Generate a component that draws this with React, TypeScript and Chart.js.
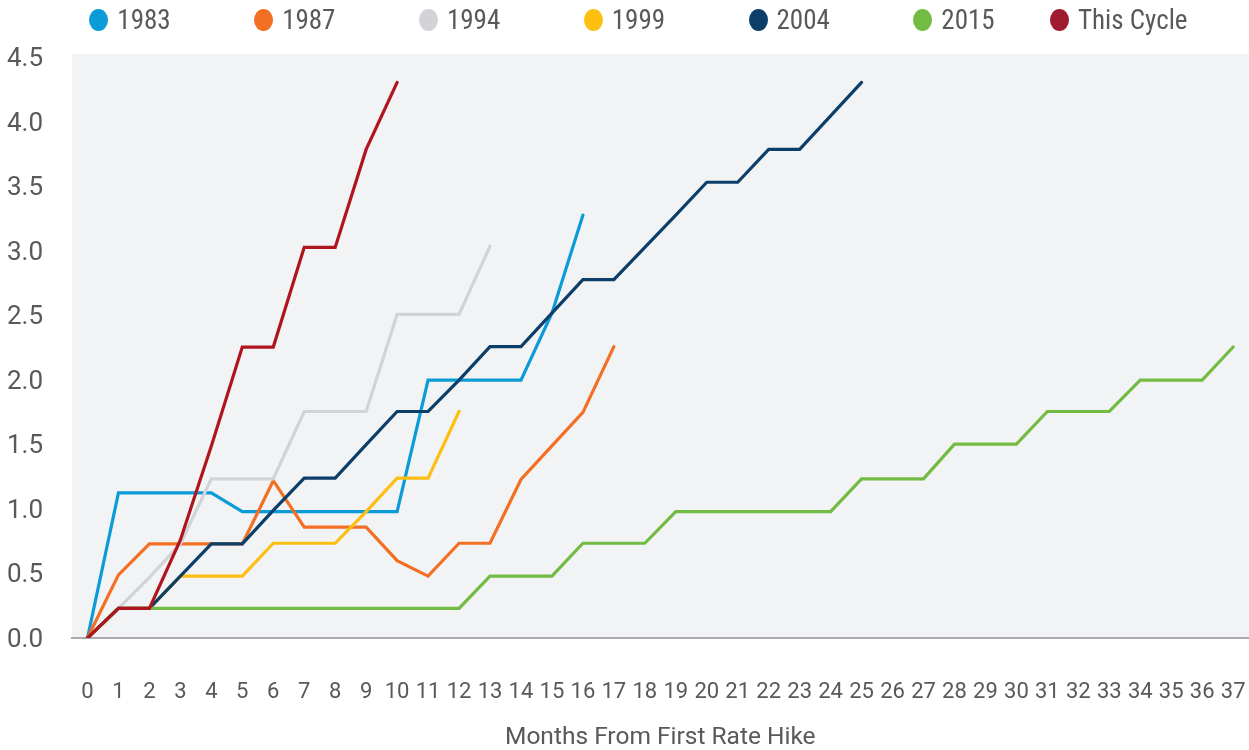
import React, { useEffect, useRef } from 'react';
import { Chart, registerables } from 'chart.js';

Chart.register(...registerables);

const monthLabels = [
  '0', '1', '2', '3', '4', '5', '6', '7', '8', '9',
  '10', '11', '12', '13', '14', '15', '16', '17', '18', '19',
  '20', '21', '22', '23', '24', '25', '26', '27', '28', '29',
  '30', '31', '32', '33', '34', '35', '36', '37',
];

const yTickValues = [0, 0.5, 1, 1.5, 2, 2.5, 3, 3.5, 4, 4.5];

const seriesNames = ['1983', '1987', '1994', '1999', '2004', '2015', 'This Cycle'];
const seriesColors = ['#0a9bd8', '#f36f24', '#d1d3d6', '#fdbf12', '#0c3e6a', '#72bc44', '#b0141e'];
const legendColors = ['#0a9bd8', '#f36f24', '#d1d3d6', '#fdbf12', '#0c3e6a', '#72bc44', '#9e1b30'];

const cycle1983 = [0, 1.125, 1.125, 1.125, 1.125, 0.98, 0.98, 0.98, 0.98, 0.98, 0.98, 2.0, 2.0, 2.0, 2.0, 2.52, 3.28];
const cycle1987 = [0, 0.49, 0.73, 0.73, 0.73, 0.73, 1.22, 0.86, 0.86, 0.86, 0.6, 0.48, 0.735, 0.735, 1.23, 1.49, 1.75, 2.26];
const cycle1994 = [0, 0.23, 0.47, 0.73, 1.235, 1.235, 1.235, 1.757, 1.757, 1.757, 2.51, 2.51, 2.51, 3.04];
const cycle1999 = [0, 0.23, 0.23, 0.48, 0.48, 0.48, 0.735, 0.735, 0.735, 0.98, 1.24, 1.24, 1.757];
const cycle2004 = [0, 0.23, 0.23, 0.48, 0.73, 0.73, 0.99, 1.24, 1.24, 1.5, 1.757, 1.757, 2.0, 2.26, 2.26, 2.52, 2.78, 2.78, 3.03, 3.28, 3.535, 3.535, 3.79, 3.79, 4.05, 4.31];
const cycle2015 = [
  0, 0.23, 0.23, 0.23, 0.23, 0.23, 0.23, 0.23, 0.23, 0.23,
  0.23, 0.23, 0.23, 0.48, 0.48, 0.48, 0.735, 0.735, 0.735, 0.98,
  0.98, 0.98, 0.98, 0.98, 0.98, 1.234, 1.234, 1.234, 1.504, 1.504,
  1.504, 1.757, 1.757, 1.757, 2.0, 2.0, 2.0, 2.257,
];
const cycleThis = [0, 0.23, 0.23, 0.76, 1.49, 2.257, 2.257, 3.03, 3.03, 3.79, 4.31];

const seriesData = [cycle1983, cycle1987, cycle1994, cycle1999, cycle2004, cycle2015, cycleThis];

const xTitle = 'Months From First Rate Hike';

const TEXT_COLOR = '#58595b';

const plotBackground = {
  id: 'plotBackground',
  beforeDraw(chart: any) {
    const { ctx, chartArea } = chart;
    if (!chartArea) return;
    ctx.save();
    ctx.fillStyle = '#f2f3f5';
    ctx.fillRect(chartArea.left, chartArea.top, chartArea.right - chartArea.left, chartArea.bottom - chartArea.top);
    ctx.restore();
  },
};

export default function App() {
  const canvasRef = useRef<HTMLCanvasElement | null>(null);

  useEffect(() => {
    const canvas = canvasRef.current;
    if (!canvas) return;
    const chart = new Chart(canvas, {
      type: 'line',
      data: {
        labels: monthLabels,
        datasets: seriesNames.map((name, i) => ({
          label: name,
          data: seriesData[i],
          borderColor: seriesColors[i],
          backgroundColor: seriesColors[i],
          borderWidth: 3.2,
          borderCapStyle: 'round' as const,
          borderJoinStyle: 'miter' as const,
          pointRadius: 0,
          pointHoverRadius: 0,
          tension: 0,
          fill: false,
          order: seriesNames.length - i,
        })),
      },
      options: {
        responsive: false,
        animation: false,
        devicePixelRatio: 1,
        events: [],
        layout: { padding: { top: 54, left: 0, right: 0, bottom: 0 } },
        plugins: {
          legend: { display: false },
          tooltip: { enabled: false },
          title: { display: false },
        },
        scales: {
          x: {
            type: 'category',
            offset: true,
            grid: { display: false, drawTicks: true, tickLength: 38 },
            border: { display: true, color: '#a9abae', width: 2 },
            ticks: {
              color: TEXT_COLOR,
              font: { family: 'Roboto', size: 22 },
              padding: 3.5,
              maxRotation: 0,
              autoSkip: false,
            },
            title: {
              display: true,
              text: xTitle,
              color: TEXT_COLOR,
              font: { family: 'Roboto', size: 24.5, lineHeight: 1.0 },
              padding: { top: 0, bottom: 0 },
            },
            afterFit(scale: any) {
              scale.height = 112;
            },
          },
          y: {
            type: 'linear',
            min: 0,
            max: 4.53,
            grid: { display: false, drawTicks: false },
            border: { display: false },
            afterBuildTicks(scale: any) {
              scale.ticks = yTickValues.map((v) => ({ value: v }));
            },
            ticks: {
              color: TEXT_COLOR,
              font: { family: 'Roboto', size: 26 },
              padding: 29,
              labelOffset: 2,
              callback: (v: any) => Number(v).toFixed(1),
            },
            afterFit(scale: any) {
              scale.width = 72;
            },
          },
        },
      },
      plugins: [plotBackground],
    });
    return () => chart.destroy();
  }, []);

  return (
    <div style={{ position: 'fixed', left: 0, top: 0, width: 1249, height: 750, background: '#ffffff', overflow: 'hidden' }}>
      <canvas ref={canvasRef} width={1249} height={750} style={{ position: 'absolute', left: 0, top: 0, width: 1249, height: 750 }} />
      <div
        style={{
          position: 'absolute',
          left: 47.6,
          top: 3,
          height: 34,
          display: 'flex',
          alignItems: 'center',
          fontFamily: "'Liberation Sans Narrow', 'Roboto Condensed', 'DejaVu Sans Condensed', Roboto, sans-serif",
          fontSize: 27,
          color: TEXT_COLOR,
        }}
      >
        {seriesNames.map((name, i) => (
          <div key={name} style={{ width: 164.8, display: 'flex', alignItems: 'center', justifyContent: 'center' }}>
            <span
              style={{
                display: 'inline-block',
                width: 19,
                height: 22,
                borderRadius: '50%',
                background: legendColors[i],
                marginRight: 9,
                flex: '0 0 auto',
              }}
            />
            <span style={{ lineHeight: '34px', whiteSpace: 'nowrap' }}>{name}</span>
          </div>
        ))}
      </div>
    </div>
  );
}
